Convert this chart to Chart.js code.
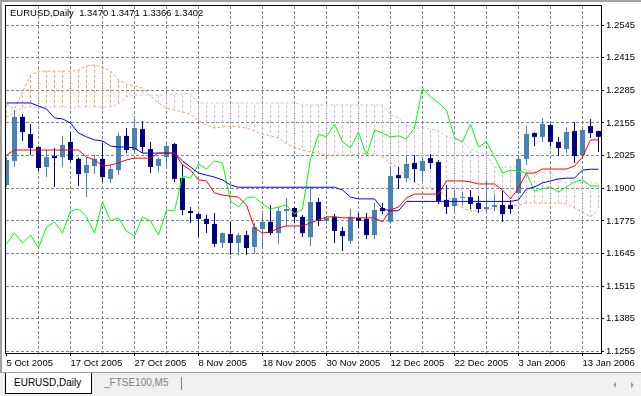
<!DOCTYPE html>
<html>
<head>
<meta charset="utf-8">
<script src="https://cdn.jsdelivr.net/npm/chart.js@4.4.0/dist/chart.umd.min.js"></script>
<style>
  html, body { margin: 0; padding: 0; background: #fff; }
  body { width: 641px; height: 396px; position: relative; overflow: hidden; font-family: 'Liberation Sans', Arial, sans-serif; }
  #chart { position: absolute; left: 0; top: 0; }
  #header { position: absolute; left: 10px; top: 7px; font-size: 9.5px; line-height: 12px; white-space: pre; color: #000; }
  #frameTop { position: absolute; left: 0; top: 0; width: 641px; height: 2px; background: #a0a0a0; }
  #frameLeft { position: absolute; left: 0; top: 0; width: 2px; height: 396px; background: #a0a0a0; }
  #tabs { position: absolute; left: 0; top: 372px; width: 641px; height: 24px; background: #f0f0f0; border-top: 1px solid #a0a0a0; box-sizing: border-box; }
  .tab { position: absolute; top: 0; height: 21px; font-size: 10px; line-height: 20px; box-sizing: border-box; }
  #tab1 { left: 5px; width: 87px; background: #fff; border: 1px solid #000; border-top: none; padding-left: 8px; color: #000; }
  #tab2 { left: 104px; color: #808080; }
  #sep { position: absolute; left: 181px; top: 4px; width: 1px; height: 13px; background: #808080; }
  .arr { position: absolute; top: 9px; width: 0; height: 0; border-top: 3px solid transparent; border-bottom: 3px solid transparent; }
  #arrL { left: 613px; border-right: 3px solid #a0a0a0; }
  #arrR { left: 631px; border-left: 3px solid #a0a0a0; }
</style>
</head>
<body>
<canvas id="chart" width="641" height="372"></canvas>
<div id="header">EURUSD,Daily  1.3470 1.3471 1.3366 1.3402</div>
<div id="frameTop"></div>
<div id="frameLeft"></div>
<div id="tabs">
  <div class="tab" id="tab1">EURUSD,Daily</div>
  <div class="tab" id="tab2">_FTSE100,M5</div>
  <div id="sep"></div>
  <div class="arr" id="arrL"></div>
  <div class="arr" id="arrR"></div>
</div>
<script>
// trading days, one per bar
const dates = [
  '5 Oct 2005', '6 Oct 2005', '7 Oct 2005', '10 Oct 2005', '11 Oct 2005', '12 Oct 2005', '13 Oct 2005', '14 Oct 2005',
  '17 Oct 2005', '18 Oct 2005', '19 Oct 2005', '20 Oct 2005', '21 Oct 2005', '24 Oct 2005', '25 Oct 2005', '26 Oct 2005',
  '27 Oct 2005', '28 Oct 2005', '31 Oct 2005', '1 Nov 2005', '2 Nov 2005', '3 Nov 2005', '4 Nov 2005', '7 Nov 2005',
  '8 Nov 2005', '9 Nov 2005', '10 Nov 2005', '11 Nov 2005', '14 Nov 2005', '15 Nov 2005', '16 Nov 2005', '17 Nov 2005',
  '18 Nov 2005', '21 Nov 2005', '22 Nov 2005', '23 Nov 2005', '24 Nov 2005', '25 Nov 2005', '28 Nov 2005', '29 Nov 2005',
  '30 Nov 2005', '1 Dec 2005', '2 Dec 2005', '5 Dec 2005', '6 Dec 2005', '7 Dec 2005', '8 Dec 2005', '9 Dec 2005',
  '12 Dec 2005', '13 Dec 2005', '14 Dec 2005', '15 Dec 2005', '16 Dec 2005', '19 Dec 2005', '20 Dec 2005', '21 Dec 2005',
  '22 Dec 2005', '23 Dec 2005', '26 Dec 2005', '27 Dec 2005', '28 Dec 2005', '29 Dec 2005', '30 Dec 2005', '2 Jan 2006',
  '3 Jan 2006', '4 Jan 2006', '5 Jan 2006', '6 Jan 2006', '9 Jan 2006', '10 Jan 2006', '11 Jan 2006', '12 Jan 2006',
  '13 Jan 2006', '16 Jan 2006', '17 Jan 2006'
];

const open = [
  1.1913, 1.2008, 1.2182, 1.2114, 1.2063, 1.1984, 1.2027, 1.2023, 1.2083, 1.2016,
  1.1960, 1.1988, 1.2016, 1.1937, 1.1972, 1.2107, 1.2051, 1.2134, 1.2055, 1.1988,
  1.2023, 1.2075, 1.1940, 1.1810, 1.1798, 1.1779, 1.1759, 1.1684, 1.1719, 1.1684,
  1.1715, 1.1668, 1.1739, 1.1767, 1.1723, 1.1810, 1.1822, 1.1787, 1.1707, 1.1846,
  1.1771, 1.1787, 1.1731, 1.1692, 1.1783, 1.1779, 1.1715, 1.1822, 1.1767, 1.1952,
  1.1940, 1.2000, 1.1968, 1.2019, 1.2004, 1.1854, 1.1830, 1.1862, 1.1865, 1.1842,
  1.1818, 1.1826, 1.1834, 1.1834, 1.1881, 1.2016, 1.2118, 1.2103, 1.2150, 1.2083,
  1.2055, 1.2126, 1.2031, 1.2146, 1.2126
];
const high = [
  1.2023, 1.2209, 1.2193, 1.2154, 1.2067, 1.2051, 1.2059, 1.2107, 1.2122, 1.2023,
  1.2023, 1.2031, 1.2079, 1.1992, 1.2118, 1.2138, 1.2174, 1.2166, 1.2083, 1.2023,
  1.2079, 1.2079, 1.1992, 1.1826, 1.1802, 1.1794, 1.1802, 1.1725, 1.1767, 1.1723,
  1.1731, 1.1763, 1.1798, 1.1834, 1.1826, 1.1862, 1.1826, 1.1794, 1.1905, 1.1862,
  1.1787, 1.1798, 1.1747, 1.1818, 1.1802, 1.1802, 1.1842, 1.1842, 1.1984, 1.1984,
  1.2031, 1.2031, 1.2023, 1.2035, 1.2012, 1.1913, 1.1893, 1.1885, 1.1893, 1.1869,
  1.1933, 1.1877, 1.1889, 1.1854, 1.2027, 1.2146, 1.2120, 1.2178, 1.2154, 1.2103,
  1.2142, 1.2162, 1.2134, 1.2174, 1.2128
];
const low = [
  1.1905, 1.1984, 1.2087, 1.2031, 1.1968, 1.1944, 1.1905, 1.1984, 1.2004, 1.1909,
  1.1865, 1.1956, 1.1925, 1.1921, 1.1952, 1.2039, 1.2039, 1.2039, 1.1960, 1.1964,
  1.1984, 1.1925, 1.1794, 1.1763, 1.1707, 1.1723, 1.1668, 1.1664, 1.1636, 1.1636,
  1.1636, 1.1640, 1.1664, 1.1715, 1.1680, 1.1751, 1.1763, 1.1707, 1.1672, 1.1751,
  1.1759, 1.1684, 1.1652, 1.1680, 1.1743, 1.1700, 1.1700, 1.1798, 1.1763, 1.1897,
  1.1925, 1.1925, 1.1925, 1.1976, 1.1838, 1.1798, 1.1810, 1.1834, 1.1818, 1.1802,
  1.1806, 1.1810, 1.1767, 1.1798, 1.1879, 1.1992, 1.2067, 1.2083, 1.2067, 1.2027,
  1.2039, 1.2000, 1.2019, 1.2099, 1.2043
];
const close = [
  1.2012, 1.2182, 1.2122, 1.2059, 1.1980, 1.2023, 1.2019, 1.2071, 1.2012, 1.1956,
  1.1992, 1.2016, 1.1944, 1.1976, 1.2107, 1.2051, 1.2138, 1.2063, 1.1984, 1.2016,
  1.2067, 1.1937, 1.1814, 1.1802, 1.1779, 1.1759, 1.1680, 1.1723, 1.1684, 1.1715,
  1.1664, 1.1747, 1.1767, 1.1723, 1.1810, 1.1818, 1.1787, 1.1723, 1.1846, 1.1771,
  1.1783, 1.1731, 1.1711, 1.1787, 1.1771, 1.1715, 1.1814, 1.1810, 1.1948, 1.1940,
  1.1996, 1.1976, 1.2008, 1.2000, 1.1850, 1.1826, 1.1862, 1.1865, 1.1838, 1.1818,
  1.1826, 1.1834, 1.1798, 1.1818, 1.2016, 1.2114, 1.2103, 1.2154, 1.2083, 1.2059,
  1.2122, 1.2027, 1.2130, 1.2118, 1.2103
];

// Ichimoku lines
const tenkan = [
  1.2031, 1.2051, 1.2051, 1.2051, 1.2051, 1.2051, 1.2051, 1.2051, 1.2051, 1.2051,
  1.2023, 1.2012, 1.1988, 1.1992, 1.2000, 1.2012, 1.2019, 1.2019, 1.2019, 1.2039,
  1.2039, 1.2039, 1.1992, 1.1972, 1.1933, 1.1929, 1.1881, 1.1873, 1.1869, 1.1865,
  1.1834, 1.1743, 1.1723, 1.1727, 1.1743, 1.1751, 1.1751, 1.1751, 1.1763, 1.1775,
  1.1787, 1.1787, 1.1783, 1.1783, 1.1783, 1.1783, 1.1783, 1.1767, 1.1814, 1.1826,
  1.1862, 1.1877, 1.1877, 1.1877, 1.1877, 1.1929, 1.1929, 1.1929, 1.1925, 1.1917,
  1.1917, 1.1917, 1.1893, 1.1858, 1.1901, 1.1960, 1.1960, 1.1976, 1.1976, 1.1976,
  1.1976, 1.1988, 1.2023, 1.2091, 1.2091
];
const kijun = [
  1.2237, 1.2237, 1.2237, 1.2237, 1.2225, 1.2213, 1.2178, 1.2174, 1.2158, 1.2118,
  1.2103, 1.2091, 1.2087, 1.2067, 1.2063, 1.2063, 1.2059, 1.2039, 1.2039, 1.2039,
  1.2039, 1.2039, 1.2008, 1.1984, 1.1960, 1.1952, 1.1944, 1.1933, 1.1913, 1.1904,
  1.1904, 1.1904, 1.1904, 1.1904, 1.1904, 1.1904, 1.1904, 1.1904, 1.1904, 1.1904,
  1.1904, 1.1904, 1.1893, 1.1865, 1.1858, 1.1858, 1.1858, 1.1818, 1.1811, 1.1811,
  1.1848, 1.1848, 1.1848, 1.1848, 1.1848, 1.1848, 1.1848, 1.1848, 1.1848, 1.1848,
  1.1848, 1.1848, 1.1848, 1.1848, 1.1854, 1.1897, 1.1905, 1.1921, 1.1929, 1.1937,
  1.1940, 1.1940, 1.1972, 1.1975, 1.1975
];
const chikou = [
  1.1680, 1.1723, 1.1684, 1.1715, 1.1664, 1.1747, 1.1767, 1.1723, 1.1810, 1.1818,
  1.1787, 1.1723, 1.1846, 1.1771, 1.1783, 1.1731, 1.1711, 1.1787, 1.1771, 1.1715,
  1.1814, 1.1810, 1.1948, 1.1940, 1.1996, 1.1976, 1.2008, 1.2000, 1.1850, 1.1826,
  1.1862, 1.1865, 1.1838, 1.1818, 1.1826, 1.1834, 1.1798, 1.1818, 1.2016, 1.2114,
  1.2103, 1.2154, 1.2083, 1.2059, 1.2122, 1.2027, 1.2130, 1.2118, 1.2103, 1.2107,
  1.2095, 1.2138, 1.2296, 1.2261, 1.2237, 1.2209, 1.2099, 1.2083, 1.2154, 1.2063,
  1.2083, 1.2023, 1.1960, 1.1972, 1.1968, 1.1960, 1.1889, 1.1897, 1.1905, 1.1885,
  1.1905, 1.1925, 1.1933, 1.1909, 1.1909
];
const spanA = [
  1.2233, 1.2213, 1.2280, 1.2347, 1.2363, 1.2363, 1.2363, 1.2363, 1.2363, 1.2367,
  1.2383, 1.2387, 1.2379, 1.2363, 1.2328, 1.2312, 1.2304, 1.2296, 1.2265, 1.2237,
  1.2217, 1.2209, 1.2201, 1.2193, 1.2166, 1.2150, 1.2138, 1.2142, 1.2146, 1.2142,
  1.2138, 1.2126, 1.2114, 1.2107, 1.2099, 1.2075, 1.2063, 1.2051, 1.2043, 1.2039,
  1.2031, 1.2031, 1.2031, 1.2031, 1.2035, 1.2039, 1.2035, 1.2023, 1.2000, 1.1980,
  1.1944, 1.1925, 1.1905, 1.1897, 1.1889, 1.1869, 1.1846, 1.1822, 1.1810, 1.1810,
  1.1814, 1.1822, 1.1822, 1.1830, 1.1834, 1.1842, 1.1842, 1.1842, 1.1842, 1.1842,
  1.1838, 1.1822, 1.1806, 1.1787, 1.1814
];
const spanB = [
  1.2178, 1.2201, 1.2217, 1.2221, 1.2221, 1.2221, 1.2221, 1.2221, 1.2221, 1.2221,
  1.2221, 1.2221, 1.2221, 1.2221, 1.2233, 1.2261, 1.2268, 1.2268, 1.2268, 1.2268,
  1.2268, 1.2274, 1.2274, 1.2274, 1.2237, 1.2237, 1.2237, 1.2237, 1.2237, 1.2237,
  1.2237, 1.2237, 1.2237, 1.2237, 1.2237, 1.2237, 1.2237, 1.2229, 1.2229, 1.2229,
  1.2229, 1.2229, 1.2229, 1.2229, 1.2229, 1.2229, 1.2229, 1.2229, 1.2189, 1.2178,
  1.2150, 1.2138, 1.2138, 1.2134, 1.2126, 1.2107, 1.2095, 1.2083, 1.2055, 1.2043,
  1.2031, 1.1984, 1.1984, 1.1984, 1.1984, 1.1972, 1.1964, 1.1964, 1.1964, 1.1933,
  1.1921, 1.1921, 1.1921, 1.1921, 1.1921
];

// price scale labels, top to bottom
const priceLabels = ['1.2545', '1.2415', '1.2285', '1.2155', '1.2025', '1.1900', '1.1775', '1.1645', '1.1515', '1.1385', '1.1255'];

const gridColor = '#778899';
const bullColor = '#4682B4';
const bearColor = '#000080';

const canvas = document.getElementById('chart');
const ctx = canvas.getContext('2d');

function hatch(color) {
  const c = document.createElement('canvas');
  c.width = 1; c.height = 5;
  const g = c.getContext('2d');
  g.fillStyle = color;
  g.fillRect(0, 0, 1, 3);
  return ctx.createPattern(c, 'repeat');
}
const sandyHatch = hatch('#F4A460');
const thistleHatch = hatch('#D8BFD8');

const points = arr => arr.map((v, i) => ({ x: i, y: v }));
const ranges = (a, b) => a.map((v, i) => ({ x: i, y: [v, b[i]] }));
const candleColor = c => close[c.dataIndex] >= open[c.dataIndex] ? bullColor : bearColor;

// evenly spaced price grid between the lowest and highest label
const topVal = parseFloat(priceLabels[0]);
const botVal = parseFloat(priceLabels[priceLabels.length - 1]);
const gridStep = (topVal - botVal) / (priceLabels.length - 1);

const lineOpts = { borderWidth: 1, pointRadius: 0, tension: 0, fill: false };
const barOpts = { grouped: false, inflateAmount: 0, borderWidth: 0 };

// black frame round the plot area
const framePlugin = {
  id: 'frame',
  afterDraw(chart) {
    const a = chart.chartArea;
    const c = chart.ctx;
    c.save();
    c.strokeStyle = '#000';
    c.lineWidth = 1;
    c.strokeRect(a.left - 0.5, a.top - 0.5, a.right - a.left + 1, a.bottom - a.top + 1);
    c.restore();
  }
};

const labelFont = { family: "'Liberation Sans', Arial, sans-serif", size: 9.5 };

new Chart(ctx, {
  type: 'bar',
  data: {
    datasets: [
      { type: 'line', data: points(tenkan), borderColor: '#FF0000', order: 0, ...lineOpts },
      { type: 'line', data: points(kijun), borderColor: '#0000FF', order: 0, ...lineOpts },
      { type: 'line', data: points(chikou), borderColor: '#00FF00', order: 0, ...lineOpts },
      { type: 'bar', data: ranges(open, close), backgroundColor: candleColor, barThickness: 5, minBarLength: 1, order: 1, ...barOpts },
      { type: 'bar', data: ranges(low, high), backgroundColor: candleColor, barThickness: 1, order: 2, ...barOpts },
      { type: 'line', data: points(spanA), borderColor: '#F4A460', borderDash: [3, 2], order: 3, ...lineOpts },
      { type: 'line', data: points(spanB), borderColor: '#D8BFD8', borderDash: [3, 2], order: 3, ...lineOpts },
      { type: 'bar', data: ranges(spanA, spanB),
        backgroundColor: c => spanA[c.dataIndex] >= spanB[c.dataIndex] ? sandyHatch : thistleHatch,
        barThickness: 1, order: 4, ...barOpts }
    ]
  },
  options: {
    responsive: false,
    animation: false,
    devicePixelRatio: 1,
    events: [],
    layout: { padding: { left: 6, top: 6, right: 0, bottom: 0 } },
    plugins: { legend: { display: false }, tooltip: { enabled: false } },
    scales: {
      x: {
        type: 'linear',
        offset: false,
        min: -0.0625,
        max: 74.3125,
        afterBuildTicks: s => {
          s.ticks = [];
          for (let v = 0; v < dates.length; v += 4) s.ticks.push({ value: v });
        },
        afterFit: s => { s.height = 19; s.paddingLeft = 0; s.paddingRight = 0; },
        grid: {
          offset: false,
          color: c => (c.tick && c.tick.value === 0) ? 'rgba(0,0,0,0)' : gridColor,
          tickColor: c => (c.tick && c.tick.value % 8 === 0) ? '#000' : 'rgba(0,0,0,0)',
          tickLength: 3
        },
        border: { display: false, dash: [3, 2] },
        ticks: {
          align: 'start',
          autoSkip: false,
          maxRotation: 0,
          padding: 2,
          color: '#000',
          font: labelFont,
          callback: v => v % 8 === 0 ? dates[v] : ''
        }
      },
      y: {
        position: 'right',
        min: botVal - 0.00059,
        max: topVal + 0.00751,
        afterBuildTicks: s => {
          s.ticks = priceLabels.map((t, j) => ({ value: botVal + j * gridStep }));
        },
        afterFit: s => { s.width = 40; s.paddingTop = 0; s.paddingBottom = 0; },
        grid: { color: gridColor, tickColor: '#000', tickLength: 3 },
        border: { display: false, dash: [3, 2] },
        ticks: {
          padding: 2,
          color: '#000',
          font: labelFont,
          callback: (v, i) => priceLabels[priceLabels.length - 1 - i]
        }
      }
    }
  },
  plugins: [framePlugin]
});
</script>
</body>
</html>
